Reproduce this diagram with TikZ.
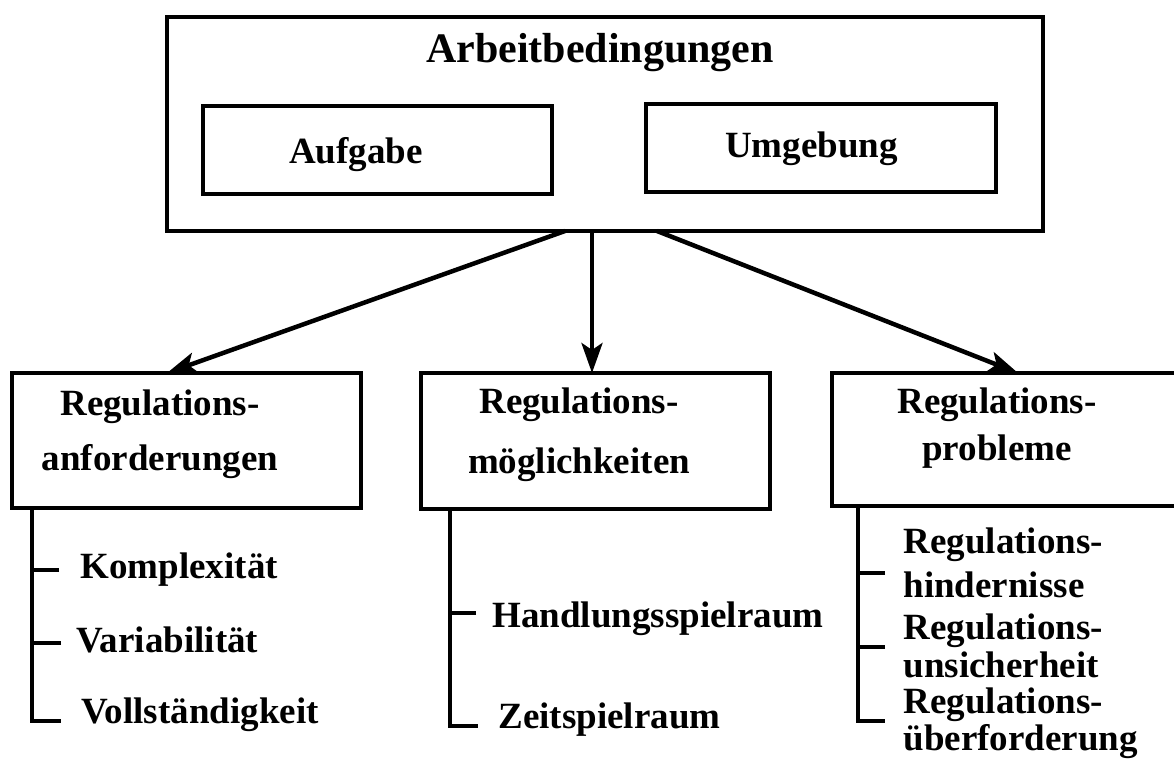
\documentclass[tikz,border=0pt]{standalone}
\usepackage{fontspec}
\setmainfont{Liberation Serif}
\usetikzlibrary{arrows.meta}
\tikzset{
  >=Stealth,
  every node/.style={font=\bfseries\fontsize{37}{44}\selectfont},
  box/.style={draw,line width=4.5pt,inner sep=0pt,outer sep=0pt},
  arr/.style={-{Stealth[length=30pt,width=21pt,inset=7pt]},line width=4.5pt},
  tree/.style={line width=4.5pt},
}

\begin{document}
\begin{tikzpicture}[x=1pt,y=-1pt]
  \useasboundingbox (0,0) rectangle (1174,765);

  % Arbeitbedingungen
  \node[box,minimum width=876pt,minimum height=214pt] (arbeit) at (605,124) {};
  \node[anchor=base,font=\bfseries\fontsize{42}{50}\selectfont] (titel) at (600,63) {Arbeitbedingungen};
  \node[box,minimum width=349pt,minimum height=88pt] (aufgabe) at (377.5,150) {};
  \node[anchor=base] (aufgabetxt) at (356,163) {Aufgabe};
  \node[box,minimum width=350pt,minimum height=88pt] (umgebung) at (821,148) {};
  \node[anchor=base] (umgebungtxt) at (811.5,157) {Umgebung};

  % drei Kaesten unten (base = letzte Zeile)
  \node[box,minimum width=349pt,minimum height=135pt] (anford) at (186.5,440.5) {};
  \node[anchor=base,align=center] (anfordtxt) at (160,470) {Regulations-\\[11pt]anforderungen};
  \node[box,minimum width=349pt,minimum height=136pt] (moegl) at (595.5,441) {};
  \node[anchor=base,align=center] (moegltxt) at (579,473) {Regulations-\\[16pt]möglichkeiten};
  \node[box,minimum width=360pt,minimum height=133pt] (probl) at (1012,439.5) {};
  \node[anchor=base,align=center] (probltxt) at (997,460) {Regulations-\\[3pt]probleme};

  % Pfeile
  \draw[arr] ([xshift=-40pt]arbeit.south) -- ([xshift=-19.5pt]anford.north);
  \draw[arr] ([xshift=-13pt]arbeit.south) -- ([xshift=-3.5pt]moegl.north);
  \draw[arr] ([xshift=52pt]arbeit.south) -- ([xshift=6pt]probl.north);

  % Anforderungen
  \coordinate (sp1) at ([xshift=20pt]anford.south west);
  \node[anchor=base west] (komplex) at (77,578) {Komplexität};
  \node[anchor=base west] (variab) at (73,652) {Variabilität};
  \node[anchor=base west] (vollst) at (78,723) {Vollständigkeit};
  \draw[tree] (sp1) |- ([xshift=-17pt,yshift=2pt]vollst.base west);
  \draw[tree] ([xshift=-18pt,yshift=8pt]komplex.base west) -- ++(-27,0);
  \draw[tree] ([xshift=-12pt,yshift=9pt]variab.base west) -- ++(-29,0);

  % Moeglichkeiten
  \coordinate (sp2) at ([xshift=29pt]moegl.south west);
  \node[anchor=base west] (handl) at (489,627) {Handlungsspielraum};
  \node[anchor=base west] (zeit) at (495,728) {Zeitspielraum};
  \draw[tree] (sp2) |- ([xshift=-17pt,yshift=2pt]zeit.base west);
  \draw[tree] ([xshift=-13pt,yshift=14pt]handl.base west) -- ++(-26,0);

  % Probleme
  \coordinate (sp3) at ([xshift=26pt]probl.south west);
  \node[anchor=base west,align=left] (hind) at (900,597) {Regulations-\\hindernisse};
  \node[anchor=base west,align=left] (unsich) at (900,677) {Regulations-\\[-6pt]unsicherheit};
  \node[anchor=base west,align=left] (ueber) at (900,750) {Regulations-\\[-7pt]überforderung};
  \draw[tree] (sp3) |- ([xshift=-15pt,yshift=29pt]ueber.base west);
  \draw[tree] ([xshift=-15pt,yshift=24pt]hind.base west) -- ++(-27,0);
  \draw[tree] ([xshift=-15pt,yshift=30pt]unsich.base west) -- ++(-27,0);
\end{tikzpicture}
\end{document}
